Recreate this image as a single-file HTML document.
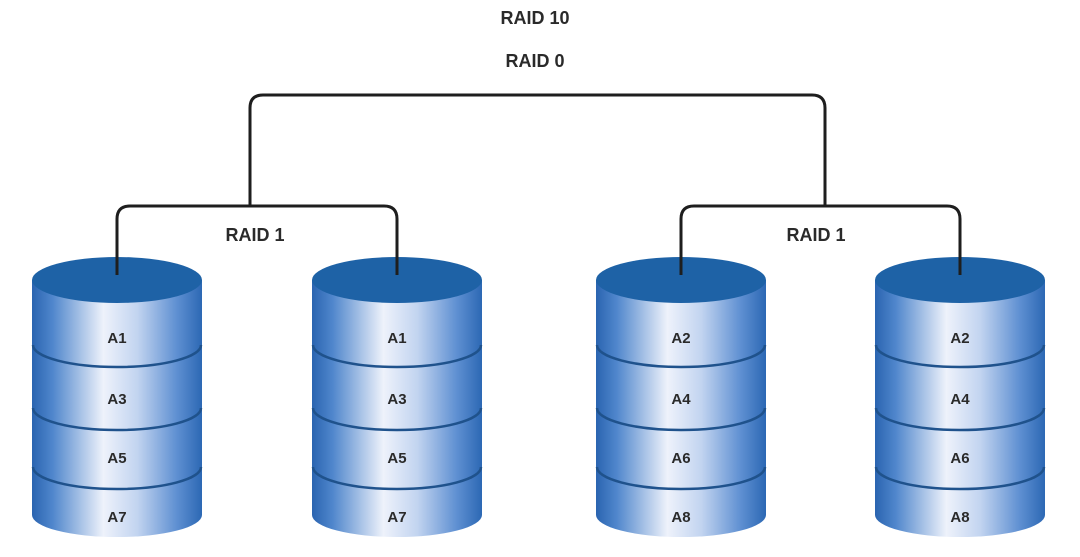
<!DOCTYPE html>
<html><head><meta charset="utf-8"><style>
html,body{margin:0;padding:0;background:#fff;}
svg{display:block;}
text{font-family:"Liberation Sans",sans-serif;font-weight:bold;fill:#2a2a2a;}
</style></head><body>
<svg width="1080" height="557" viewBox="0 0 1080 557" xmlns="http://www.w3.org/2000/svg">
<defs>
<linearGradient id="g" x1="0" y1="0" x2="1" y2="0">
<stop offset="0" stop-color="#2a64b0"/>
<stop offset="0.12" stop-color="#4f86cc"/>
<stop offset="0.42" stop-color="#eef2fb"/>
<stop offset="0.62" stop-color="#c2d4f0"/>
<stop offset="0.85" stop-color="#5f90d2"/>
<stop offset="1" stop-color="#2c68b4"/>
</linearGradient>
<g id="cyl">
<path d="M-85 280 L-85 515 A85 22 0 0 0 85 515 L85 280 Z" fill="url(#g)"/>
<path d="M-84 345 A84 22 0 0 0 84 345" fill="none" stroke="#1f528c" stroke-width="2.5"/>
<path d="M-84 408 A84 22 0 0 0 84 408" fill="none" stroke="#1f528c" stroke-width="2.5"/>
<path d="M-84 467 A84 22 0 0 0 84 467" fill="none" stroke="#1f528c" stroke-width="2.5"/>
<ellipse cx="0" cy="280" rx="85" ry="23" fill="#1e62a6"/>
</g>
</defs>
<g fill="none" stroke="#1e1e1e" stroke-width="3">
<path d="M250 207 L250 108 Q250 95 263 95 L812 95 Q825 95 825 108 L825 207"/>
<path d="M117 275 L117 219 Q117 206 130 206 L384 206 Q397 206 397 219 L397 275"/>
<path d="M681 275 L681 219 Q681 206 694 206 L947 206 Q960 206 960 219 L960 275"/>
</g>
<use href="#cyl" x="117"/>
<use href="#cyl" x="397"/>
<use href="#cyl" x="681"/>
<use href="#cyl" x="960"/>
<g stroke="#1e1e1e" stroke-width="3"><line x1="117" y1="250" x2="117" y2="275"/><line x1="397" y1="250" x2="397" y2="275"/><line x1="681" y1="250" x2="681" y2="275"/><line x1="960" y1="250" x2="960" y2="275"/></g>
<g font-size="18" text-anchor="middle">
<text x="535" y="24">RAID 10</text>
<text x="535" y="67">RAID 0</text>
<text x="255" y="241">RAID 1</text>
<text x="816" y="241">RAID 1</text>
</g>
<g font-size="15" text-anchor="middle">
<text x="117" y="343">A1</text><text x="117" y="404">A3</text><text x="117" y="463">A5</text><text x="117" y="522">A7</text>
<text x="397" y="343">A1</text><text x="397" y="404">A3</text><text x="397" y="463">A5</text><text x="397" y="522">A7</text>
<text x="681" y="343">A2</text><text x="681" y="404">A4</text><text x="681" y="463">A6</text><text x="681" y="522">A8</text>
<text x="960" y="343">A2</text><text x="960" y="404">A4</text><text x="960" y="463">A6</text><text x="960" y="522">A8</text>
</g>
</svg>
</body></html>
